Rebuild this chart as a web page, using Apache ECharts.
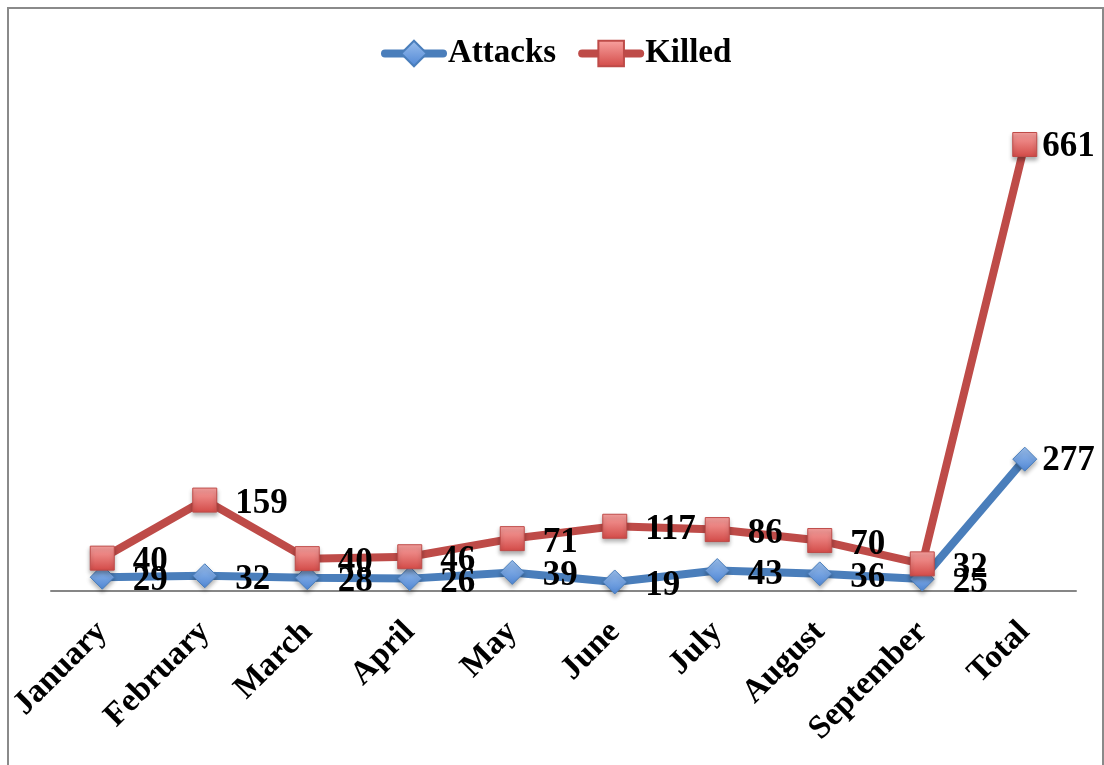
<!DOCTYPE html>
<html>
<head>
<meta charset="utf-8">
<script src="https://cdn.jsdelivr.net/npm/echarts@6/dist/echarts.min.js"></script>
<style>
  html, body { margin: 0; padding: 0; background: #fff; }
  #chart { width: 1104px; height: 765px; }
</style>
</head>
<body>
<div id="chart"></div>
<script>
const months = ['January', 'February', 'March', 'April', 'May', 'June', 'July', 'August', 'September', 'Total']
const attacks = [29, 32, 28, 26, 39, 19, 43, 36, 25, 277]
const killed = [40, 159, 40, 46, 71, 117, 86, 70, 32, 661]

const FONT = '"Liberation Serif", "DejaVu Serif", serif'
const BLUE = '#4a7ebb'
const RED = '#be4b48'

const chart = echarts.init(document.getElementById('chart'), null, { renderer: 'canvas' })

const labelStyle = {
  show: true,
  position: 'right',
  distance: 18,
  offset: [0, 4],
  color: '#000',
  fontFamily: FONT,
  fontWeight: 'bold',
  fontSize: 35,
}

// the "Total" labels sit closer to their markers
const withTotal = arr => arr.map((v, i) => i === arr.length - 1 ? { value: v, label: { distance: 5, offset: [0, 2] } } : v)

chart.setOption({
  animation: false,
  backgroundColor: '#fff',
  graphic: [{
    type: 'polyline',
    shape: { points: [[8, 770], [8, 8], [1103, 8], [1103, 770]] },
    style: { stroke: '#8a8a8a', lineWidth: 2, fill: null },
    silent: true,
  }],
  grid: { top: 115, bottom: 174, left: 51, right: 28, containLabel: false },
  legend: {
    top: 37,
    left: 381,
    padding: 0,
    itemWidth: 58,
    itemHeight: 32,
    itemGap: 22,
    textStyle: { color: '#000', fontFamily: FONT, fontWeight: 'bold', fontSize: 33 },
    data: [
      { name: 'Attacks', lineStyle: { width: 8, cap: 'round' } },
      { name: 'Killed', lineStyle: { width: 8, cap: 'round' } },
    ],
  },
  xAxis: {
    type: 'category',
    data: months,
    boundaryGap: true,
    axisLine: { lineStyle: { color: '#868686', width: 2 } },
    axisTick: { show: false },
    axisLabel: {
      rotate: 45,
      margin: 36,
      interval: 0,
      color: '#000',
      fontFamily: FONT,
      fontWeight: 'bold',
      fontSize: 33,
    },
  },
  yAxis: {
    type: 'value',
    min: 0,
    max: 1000,
    show: false,
    splitLine: { show: false },
  },
  series: [
    {
      name: 'Attacks',
      type: 'line',
      stack: 'total',
      data: withTotal(attacks),
      symbol: 'diamond',
      symbolSize: 24,
      lineStyle: { color: BLUE, width: 8 },
      itemStyle: {
        color: new echarts.graphic.LinearGradient(0, 0, 0, 1, [
          { offset: 0, color: '#9cc0ee' },
          { offset: 1, color: '#4f86d4' },
        ]),
        borderColor: BLUE,
        borderWidth: 1,
        shadowColor: 'rgba(0,0,0,0.3)',
        shadowBlur: 4,
        shadowOffsetY: 3,
      },
      label: labelStyle,
    },
    {
      name: 'Killed',
      type: 'line',
      stack: 'total',
      data: withTotal(killed),
      symbol: 'rect',
      symbolSize: 24,
      lineStyle: { color: RED, width: 8 },
      itemStyle: {
        color: new echarts.graphic.LinearGradient(0, 0, 0, 1, [
          { offset: 0, color: '#f9a3a1' },
          { offset: 1, color: '#d24a47' },
        ]),
        borderColor: RED,
        borderWidth: 1,
        shadowColor: 'rgba(0,0,0,0.3)',
        shadowBlur: 4,
        shadowOffsetY: 3,
      },
      label: labelStyle,
    },
  ],
})
</script>
</body>
</html>
